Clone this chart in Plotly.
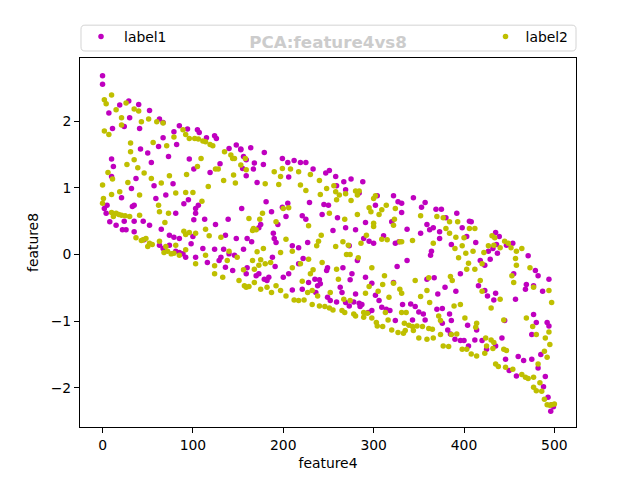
import plotly.graph_objects as go

# ---- data ----
label1_x = [
    0, 0, 19, 29, 40, 52, 63, 67, 85, 94, 105, 115, 124, 148, 153, 107, 126, 79, 156,
    11, 24, 41, 30, 7, 67, 62, 42, 50, 73, 82, 54, 10, 12, 10, 37, 32, 21, 57, 78,
    101, 96, 119, 130, 70, 59, 95, 90, 106, 103, 81, 103, 113, 101, 125, 139, 154, 155, 159, 140, 33, 35, 5,
    2, 4, 8, 15, 24, 35, 45, 52, 65, 74, 85, 100, 111, 124, 134, 148, 156, 26, 22, 46,
    67, 81, 89, 103, 131, 146, 35, 79, 98, 63, 74, 85, 92, 116, 129, 136, 144, 159, 140, 136, 160,
    153, 164, 179, 168, 178, 199, 205, 212, 219, 225, 233, 251, 247, 258, 267, 275, 288, 259, 269, 284,
    304, 322, 327, 331, 331, 320, 337, 159, 167, 171, 181, 206, 229, 205, 199, 187, 203, 194, 175, 173,
    221, 225, 245, 250, 243, 260, 255, 269, 280, 291, 302, 189, 190, 192, 165, 210, 217, 227, 289, 295,
    300, 311, 324, 328,
    273, 188, 191, 222, 217, 206, 200, 160, 170, 173, 179, 184, 182, 228, 235, 240, 241, 238, 210, 221,
    236, 248, 249, 282, 266, 276, 274, 263, 280, 249, 252, 259, 265, 269, 273, 278, 284, 287, 291, 326,
    322, 298, 302, 306, 309, 314, 294, 298, 318, 324, 332, 337, 285,
    344, 353, 357, 369, 375, 392, 359, 362, 366, 352, 373, 380, 398, 406, 408, 373, 386, 403, 413, 364,
    363, 435, 439, 436, 432, 427, 437, 454, 471,
    429, 418, 423, 447, 479, 482, 455, 469, 468, 477, 487, 494, 457, 435, 433, 426, 416, 423, 396, 391,
    379, 371, 367, 359, 341, 346, 350, 355, 357, 343, 370, 376, 384, 386, 376, 404, 414, 382, 385, 390,
    396, 400, 405, 412, 420, 425, 435, 442, 446, 450, 458, 460, 466, 475, 482, 490, 488, 493, 497, 496,
    492, 494, 480, 477, 475, 485, 445, 499,
]
label1_y = [
    2.68, 2.55, 2.24, 2.30, 2.25, 2.16, 2.03, 1.98, 1.93, 1.88, 1.87, 1.75, 1.78, 1.64, 1.57, 1.83, 1.74, 1.84, 1.47,
    1.89, 1.92, 1.89, 2.05, 2.12, 1.75, 1.62, 1.58, 1.52, 1.47, 1.65, 1.38, 1.43, 1.32, 1.17, 1.14, 0.99, 0.85, 1.03, 1.06,
    1.28, 1.43, 1.23, 1.36, 0.89, 0.84, 0.82, 0.76, 0.74, 0.69, 0.62, 0.62, 0.53, 0.52, 0.45, 0.53, 0.69, 1.29, 1.42, 1.59, 0.72, 0.74, 0.74,
    0.69, 0.62, 0.49, 0.44, 0.50, 0.50, 0.50, 0.44, 0.38, 0.29, 0.24, 0.27, 0.09, 0.08, 0.08, 0.24, 0.08, 0.37, 0.37, 0.22,
    0.09, 0.05, 0.01, -0.04, -0.04, -0.01, 0.34, 0.26, 0.16, 0.14, 0.14, 0.03, -0.04, -0.12, -0.09, -0.19, -0.24, -0.29, 0.01, 0.29, 0.24,
    1.58, 1.60, 1.53, 1.37, 1.35, 1.44, 1.38, 1.41, 1.38, 1.38, 1.28, 1.26, 1.22, 1.17, 1.09, 1.13, 1.09, 1.03, 0.97, 0.92,
    0.88, 0.88, 0.79, 0.77, 0.63, 0.49, 0.38, 1.18, 1.28, 1.08, 0.79, 1.16, 0.78, 0.77, 0.71, 0.64, 0.57, 0.45, 0.45, 0.40,
    0.58, 0.53, 0.75, 0.74, 0.60, 0.55, 0.36, 0.40, 0.37, 0.48, 0.74, 0.32, 0.24, 0.18, 0.19, 0.13, 0.10, 0.18, 0.24, 0.20,
    0.17, 0.28, 0.17, 0.19,
    0.13, -0.04, -0.18, -0.06, -0.14, -0.29, -0.34, -0.20, -0.32, -0.29, -0.37, -0.34, -0.39, -0.42, -0.37, -0.38, -0.44, -0.47, -0.53, -0.52,
    -0.57, -0.24, -0.20, -0.09, -0.20, -0.29, -0.38, -0.49, -0.59, -0.64, -0.69, -0.71, -0.57, -0.72, -0.77, -0.71, -0.73, -0.75, -0.34, -0.18,
    -0.42, -0.43, -0.61, -0.69, -0.79, -0.82, -0.87, -0.84, -0.84, -0.99, -0.75, -0.09, -0.78,
    0.85, 0.71, 0.78, 0.68, 0.68, 0.62, 0.45, 0.37, 0.40, 0.32, 0.34, 0.55, 0.40, 0.50, 0.49, 0.24, 0.15, 0.27, 0.18, 0.05,
    -0.01, 0.33, 0.27, 0.15, 0.09, 0.05, 0.02, 0.17, -0.02,
    -0.07, -0.09, -0.16, 0.14, -0.24, -0.32, -0.29, -0.45, -0.52, -0.47, -0.55, -0.37, -0.67, -0.58, -0.68, -0.62, -0.47, -0.54, -0.29, -0.55,
    -0.49, -0.59, -0.35, -0.37, -0.74, -0.78, -0.86, -0.89, -0.98, -0.98, -0.82, -0.81, -0.89, -0.99, -1.03, -1.06, -1.13, -1.13, -1.19, -1.27,
    -1.29, -1.29, -1.37, -1.28, -1.29, -1.42, -1.37, -1.25, -1.57, -1.74, -1.82, -1.53, -1.59, -1.57, -1.70, -1.83, -1.98, -2.14, -2.25, -2.35,
    -1.02, -1.07, -1.02, -0.90, -1.20, -1.50, -0.99, -2.28,
]

label2_x = [
    2, 4, 10, 15, 26, 35, 40, 43, 51, 60, 67, 79, 89, 96, 102, 111, 119, 122, 135, 142, 144, 92, 106, 114, 21,
    2, 7, 21, 31, 31, 35, 27, 39, 6, 11, 28, 19, 10, 41, 46, 54, 65, 74, 81, 92,
    100, 110, 62, 63, 73, 69, 93, 105, 109, 71, 56, 125, 128, 117, 134, 146, 147, 159, 145, 114, 90, 92,
    0, 1, 0, 10, 15, 21, 30, 41, 45, 48, 52, 63, 70, 81, 92, 96, 103, 118, 140, 18,
    25, 12, 37, 43, 68, 76, 85, 103, 114, 124, 124, 133, 138, 149, 151, 157, 159, 131, 50, 55, 72, 79,
    158, 153, 180, 190, 197, 195, 199, 208, 217, 230, 219, 225, 241, 240, 248, 256, 258, 262, 269, 259,
    275, 280, 284, 282, 300, 302, 295, 297, 309, 314, 324, 323, 322, 306, 300, 300, 282, 268, 251, 200,
    206, 192, 177, 174, 162, 167, 170, 166, 228, 242, 239, 237, 203, 197, 210, 258, 266, 272, 286, 292,
    309, 315, 329, 331, 178, 171, 270, 274,
    283, 298, 166, 175, 180, 173, 156, 168, 186, 210, 219, 228, 233, 243, 259, 261, 312, 310, 322, 329,
    331, 291, 295, 305, 317, 162, 168, 175, 182, 187, 192, 197, 203, 212, 217, 223, 227, 232, 238, 232,
    240, 246, 251, 255, 265, 268, 274, 278, 280, 289, 289, 293, 298, 303, 304, 310, 316, 320, 327, 333,
    335, 334, 313, 331, 221, 230, 252, 267,
    352, 370, 377, 384, 393, 380, 384, 391, 400, 406, 412, 343, 366, 390, 398, 402, 410, 422, 427, 431,
    434, 433, 440, 445, 449, 452, 458, 464, 394, 457,
    405, 403, 412, 420, 458, 453, 455, 473, 477, 497, 418, 420, 440, 430, 444, 469, 476, 480, 490, 494,
    495, 489, 492, 387, 385, 361, 346, 359, 352, 362, 372, 374, 389, 396, 401, 414, 413, 336, 339, 343,
    348, 354, 361, 365, 344, 350, 359, 366, 374, 377, 383, 386, 392, 398, 403, 408, 414, 424, 430, 433,
    425, 423, 432, 435, 438, 444, 447, 446, 454, 464, 468, 471, 477, 482, 484, 477, 480, 486, 489, 492,
    495, 497, 500, 494,
]
label2_y = [
    2.32, 2.26, 2.39, 2.17, 2.27, 2.18, 2.15, 1.99, 2.03, 1.99, 1.97, 1.76, 1.87, 1.74, 1.74, 1.70, 1.65, 1.63, 1.54, 1.49, 1.44, 1.80, 1.73, 1.69, 2.05,
    1.85, 1.80, 1.94, 1.67, 1.54, 1.42, 1.35, 1.30, 1.23, 1.13, 1.08, 0.94, 0.90, 0.89, 1.22, 1.14, 1.07, 1.18, 0.92, 0.93,
    0.93, 0.80, 0.74, 0.64, 0.62, 0.48, 1.20, 1.32, 1.44, 1.63, 1.68, 1.28, 1.28, 1.02, 1.11, 1.44, 1.07, 1.27, 1.19, 0.38, 0.35, 0.30,
    1.04, 0.84, 0.77, 0.63, 0.62, 0.59, 0.57, 0.59, 0.22, 0.24, 0.17, 0.20, 0.12, 0.14, 0.07, 0.33, 0.32, 0.28, 0.05, 0.60,
    0.58, 0.57, 0.25, 0.21, 0.03, 0.01, -0.01, -0.14, -0.01, -0.17, -0.29, -0.34, -0.09, -0.04, -0.39, -0.47, -0.49, 0.26, 0.12, 0.15, 0.05, 0.02,
    1.44, 1.34, 1.06, 1.24, 1.17, 1.05, 1.29, 1.28, 1.24, 1.20, 1.04, 0.96, 0.90, 1.11, 0.99, 1.03, 0.94, 0.89, 0.91, 0.82,
    0.81, 0.95, 0.95, 0.89, 0.84, 0.88, 0.70, 0.64, 0.67, 0.74, 0.69, 0.53, 0.44, 0.60, 0.47, 0.42, 0.60, 0.53, 0.62, 0.69,
    0.70, 0.49, 0.62, 0.53, 0.54, 0.39, 0.37, 0.36, 0.43, 0.29, 0.20, 0.13, 0.23, 0.03, 0.05, 0.12, 0.19, 0.14, 0.17, 0.29,
    0.23, 0.22, 0.19, 0.19, 0.09, 0.04, 0.00, 0.00,
    -0.05, -0.20, -0.09, -0.08, -0.14, -0.16, -0.23, -0.22, -0.12, -0.20, -0.14, -0.07, -0.23, -0.12, -0.22, -0.37, -0.32, -0.45, -0.43, -0.52,
    -0.58, -0.58, -0.48, -0.55, -0.64, -0.48, -0.42, -0.52, -0.49, -0.57, -0.47, -0.54, -0.62, -0.68, -0.69, -0.68, -0.57, -0.54, -0.62, -0.75,
    -0.77, -0.78, -0.80, -0.83, -0.84, -0.87, -0.69, -0.89, -0.92, -0.94, -0.87, -0.88, -0.95, -1.02, -1.07, -1.08, -0.98, -1.13, -1.17, -1.18,
    -1.14, -1.03, -0.87, -0.87, -0.40, -0.29, -0.57, -0.67,
    0.58, 0.57, 0.55, 0.49, 0.49, 0.39, 0.32, 0.26, 0.25, 0.39, 0.39, 0.21, 0.17, 0.09, 0.13, 0.02, 0.05, 0.03, 0.13, 0.28,
    0.25, 0.14, 0.10, 0.20, 0.17, 0.10, 0.05, 0.09, -0.05, -0.06,
    -0.13, -0.22, -0.22, -0.14, -0.16, -0.32, -0.42, -0.20, -0.49, -0.72, -0.39, -0.55, -0.67, -0.80, -0.98, -0.95, -1.08, -1.20, -1.25, -1.16,
    -1.35, -1.45, -1.54, -0.39, -0.33, -0.35, -0.39, -0.54, -0.63, -0.72, -0.92, -0.99, -0.77, -0.75, -0.95, -1.03, -1.09, -0.87, -1.06, -1.08,
    -1.07, -1.08, -1.11, -1.12, -1.14, -1.25, -1.27, -1.25, -1.20, -1.37, -1.38, -1.20, -1.19, -1.42, -1.42, -1.49, -1.52, -1.25, -1.28, -1.32,
    -1.37, -1.48, -1.41, -1.64, -1.68, -1.42, -1.44, -1.69, -1.72, -1.80, -1.84, -1.86, -1.84, -1.64, -1.92, -1.99, -2.04, -2.05, -2.17, -2.25,
    -2.26, -2.25, -2.24, -0.54,
]

series_names = ["label1", "label2"]
title_text = "PCA:feature4vs8"
x_title = "feature4"
y_title = "feature8"
x_ticks = [0, 100, 200, 300, 400, 500]
y_ticks = [-2, -1, 0, 1, 2]

# ---- figure ----
FONT = "DejaVu Sans"
fig = go.Figure()
fig.add_trace(go.Scatter(
    x=label1_x, y=label1_y, mode="markers", name=series_names[0], showlegend=True,
    marker=dict(color="#bf00bf", size=5.5, line=dict(width=0)), legend="legend",
))
fig.add_trace(go.Scatter(
    x=label2_x, y=label2_y, mode="markers", name=series_names[1], showlegend=True,
    marker=dict(color="#bfbf00", size=5.5, line=dict(width=0)), legend="legend2",
))

axis_common = dict(
    showline=True, linecolor="black", linewidth=1, mirror=True,
    ticks="outside", ticklen=5, tickwidth=1, tickcolor="black",
    showgrid=False, zeroline=False,
    tickfont=dict(family=FONT, size=13.9, color="black"),
)

# rounded legend frame (paper coordinates)
x0, x1, y0, y1 = 0.002, 1.0, 1.019, 1.089
rx, ry = 0.008, 0.011
frame = (f"M {x0+rx},{y0} L {x1-rx},{y0} Q {x1},{y0} {x1},{y0+ry} "
         f"L {x1},{y1-ry} Q {x1},{y1} {x1-rx},{y1} L {x0+rx},{y1} "
         f"Q {x0},{y1} {x0},{y1-ry} L {x0},{y0+ry} Q {x0},{y0} {x0+rx},{y0} Z")

# the page body adds an 8px offset; margins compensate so the axes sit where the reference has them
fig.update_layout(
    width=640, height=480,
    margin=dict(l=72, r=72, t=50, b=61, autoexpand=False),
    paper_bgcolor="white", plot_bgcolor="white",
    showlegend=True,
    font=dict(family=FONT, size=13.9, color="black"),
    title=dict(
        text=title_text, x=0.5, xref="paper", xanchor="center",
        y=1 - 34 / 480, yref="container", yanchor="middle",
        font=dict(family=FONT, size=16.7, color="#cccccc", weight="bold"),
    ),
    xaxis=dict(
        axis_common, range=[-24.95, 523.95], tickvals=x_ticks,
        title=dict(text=x_title, font=dict(family=FONT, size=13.9, color="black"), standoff=6),
    ),
    yaxis=dict(
        axis_common, range=[-2.585, 2.945], tickvals=y_ticks,
        title=dict(text=y_title, font=dict(family=FONT, size=13.9, color="black"), standoff=8),
    ),
    legend=dict(
        x=-0.004, y=1.057, xanchor="left", yanchor="middle", orientation="h",
        bgcolor="rgba(0,0,0,0)", borderwidth=0, itemwidth=36,
        font=dict(family=FONT, size=13.9, color="black"),
    ),
    legend2=dict(
        x=0.995, y=1.057, xanchor="right", yanchor="middle", orientation="h",
        bgcolor="rgba(0,0,0,0)", borderwidth=0,
        font=dict(family=FONT, size=13.9, color="black"),
    ),
    shapes=[dict(
        type="path", xref="paper", yref="paper", path=frame,
        line=dict(color="#d4d4d4", width=1), fillcolor="rgba(255,255,255,0.8)", layer="above",
    )],
)

fig.write_html("out.html")
